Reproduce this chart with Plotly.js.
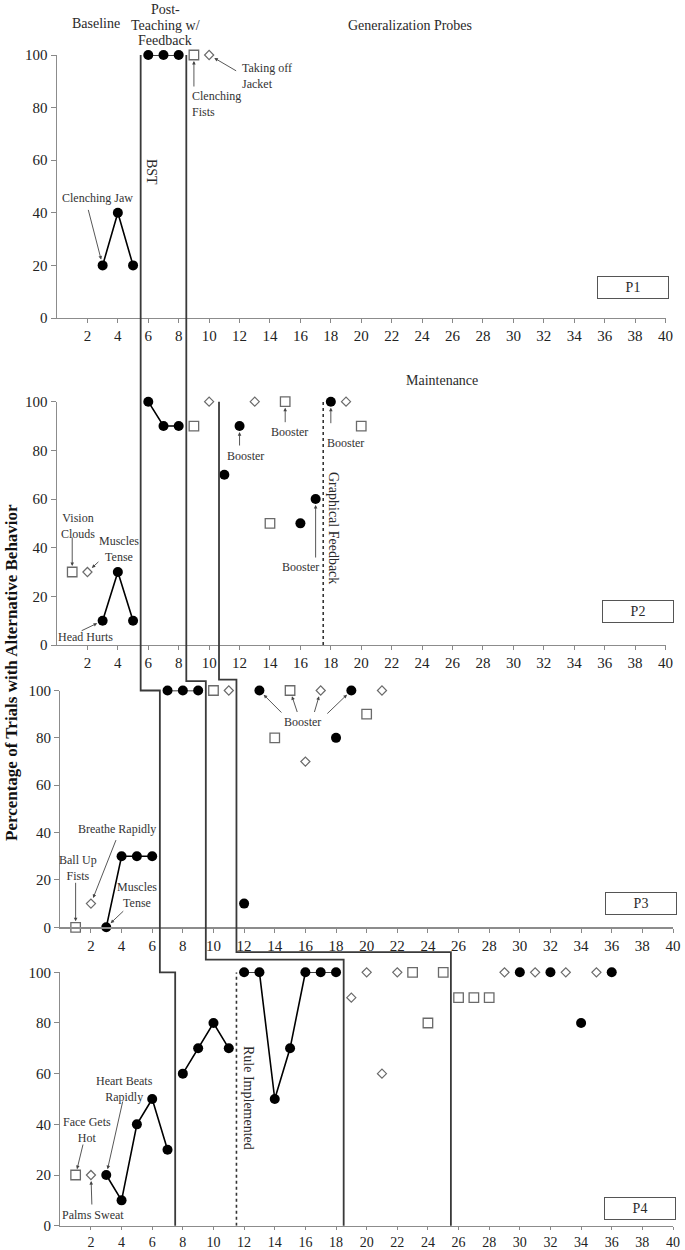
<!DOCTYPE html>
<html>
<head>
<meta charset="utf-8">
<script src="https://cdn.plot.ly/plotly-3.0.1.min.js"></script>
<style>html,body{margin:0;padding:0;background:#fff;}#chart{width:685px;height:1250px;}</style>
</head>
<body>
<div id="chart"></div>
<script>
// ---------------- DATA ----------------
// P1
const p1BaseX = [3, 4, 5], p1BaseY = [20, 40, 20];
const p1PostX = [6, 7, 8], p1PostY = [100, 100, 100];
const p1SqX = [9], p1SqY = [100];
const p1DiX = [10], p1DiY = [100];
// P2
const p2BaseX = [3, 4, 5], p2BaseY = [10, 30, 10];
const p2PostX = [6, 7, 8], p2PostY = [100, 90, 90];
const p2MaintX = [11, 12, 16, 17, 18], p2MaintY = [70, 90, 50, 60, 100];
const p2SqX = [1, 9, 14, 15, 20], p2SqY = [30, 90, 50, 100, 90];
const p2DiX = [2, 10, 13, 19], p2DiY = [30, 100, 100, 100];
// P3
const p3BaseX = [3, 4, 5, 6], p3BaseY = [0, 30, 30, 30];
const p3PostX = [7, 8, 9], p3PostY = [100, 100, 100];
const p3MaintX = [12, 13, 18, 19], p3MaintY = [10, 100, 80, 100];
const p3SqX = [1, 10, 14, 15, 20], p3SqY = [0, 100, 80, 100, 90];
const p3DiX = [2, 11, 16, 17, 21], p3DiY = [10, 100, 70, 100, 100];
// P4
const p4BaseX = [3, 4, 5, 6, 7], p4BaseY = [20, 10, 40, 50, 30];
const p4PostX = [8, 9, 10, 11], p4PostY = [60, 70, 80, 70];
const p4RuleX = [12, 13, 14, 15, 16, 17, 18], p4RuleY = [100, 100, 50, 70, 100, 100, 100];
const p4MaintX = [30, 32, 34, 36], p4MaintY = [100, 100, 80, 100];
const p4SqX = [1, 23, 24, 25, 26, 27, 28], p4SqY = [20, 100, 80, 100, 90, 90, 90];
const p4DiX = [2, 19, 20, 21, 22, 29, 31, 33, 35], p4DiY = [20, 90, 100, 60, 100, 100, 100, 100, 100];

// Phase change lines: x in each panel (P1/P2, P3, P4)
const phaseA = [5.5, 6.5, 7.5];
const phaseB = [8.5, 9.5, 18.5];
const phaseC = [10.65, 11.5, 25.5];
// step heights (in panel y units) where the staircase crosses into P3 / P4
const stepA = [100, 100];
const stepB = [104, 105];
const stepC = [104.6, 108];
const graphFeedbackX = 17.5; // P2 dotted line
const ruleX = 11.5;          // P4 dotted line

const xTicks = [2,4,6,8,10,12,14,16,18,20,22,24,26,28,30,32,34,36,38,40];
const yTicks = [0,20,40,60,80,100];

// ---------------- LAYOUT GEOMETRY (pixels) ----------------
const W = 685, H = 1250;
const panels = [
  {x0: 57,   x1: 665.5, yTop: 55,    yBot: 318},
  {x0: 57,   x1: 665.5, yTop: 401.7, yBot: 645},
  {x0: 60.3, x1: 673,   yTop: 690.5, yBot: 927.3},
  {x0: 60.3, x1: 673,   yTop: 972.3, yBot: 1225.7}
];
const px = v => v / W;
const py = v => 1 - v / H;
function xp(i, v) { const p = panels[i]; return px(p.x0 + v / 40 * (p.x1 - p.x0)); }
function yp(i, v) { const p = panels[i]; return py(p.yBot - v / 100 * (p.yBot - p.yTop)); }

const FONT = "Liberation Serif, Times New Roman, serif";
const axisIds = ['', '2', '3', '4'];

const traces = [];
function circles(i, x, y, connected) {
  traces.push({
    x: x, y: y, xaxis: 'x' + axisIds[i], yaxis: 'y' + axisIds[i],
    mode: connected ? 'lines+markers' : 'markers', type: 'scatter',
    line: {color: '#000', width: 1.6},
    marker: {symbol: 'circle', size: 10, color: '#000'},
    cliponaxis: false, hoverinfo: 'skip'
  });
}
function squares(i, x, y) {
  traces.push({
    x: x, y: y, xaxis: 'x' + axisIds[i], yaxis: 'y' + axisIds[i],
    mode: 'markers', type: 'scatter',
    marker: {symbol: 'square', size: 9.5, color: '#fff', line: {color: '#6a6a6a', width: 1.3}},
    cliponaxis: false, hoverinfo: 'skip'
  });
}
function diamonds(i, x, y) {
  traces.push({
    x: x, y: y, xaxis: 'x' + axisIds[i], yaxis: 'y' + axisIds[i],
    mode: 'markers', type: 'scatter',
    marker: {symbol: 'diamond', size: 7, color: '#fff', line: {color: '#6a6a6a', width: 1.2}},
    cliponaxis: false, hoverinfo: 'skip'
  });
}
circles(0, p1BaseX, p1BaseY, true); circles(0, p1PostX, p1PostY, true);
squares(0, p1SqX, p1SqY); diamonds(0, p1DiX, p1DiY);
circles(1, p2BaseX, p2BaseY, true); circles(1, p2PostX, p2PostY, true); circles(1, p2MaintX, p2MaintY, false);
squares(1, p2SqX, p2SqY); diamonds(1, p2DiX, p2DiY);
circles(2, p3BaseX, p3BaseY, true); circles(2, p3PostX, p3PostY, true); circles(2, p3MaintX, p3MaintY, false);
squares(2, p3SqX, p3SqY); diamonds(2, p3DiX, p3DiY);
circles(3, p4BaseX, p4BaseY, true); circles(3, p4PostX, p4PostY, true); circles(3, p4RuleX, p4RuleY, true);
circles(3, p4MaintX, p4MaintY, false);
squares(3, p4SqX, p4SqY); diamonds(3, p4DiX, p4DiY);

const layout = {
  width: W, height: H,
  margin: {l: 0, r: 0, t: 0, b: 0},
  paper_bgcolor: '#fff', plot_bgcolor: 'rgba(0,0,0,0)',
  showlegend: false,
  font: {family: FONT, color: '#222'},
  shapes: [], annotations: []
};
panels.forEach((p, i) => {
  const id = axisIds[i];
  const last = i === 3;
  layout['xaxis' + id] = {
    domain: [px(p.x0), px(p.x1)], anchor: 'y' + id, range: [0, 40],
    tickvals: xTicks, ticktext: xTicks.map(String), ticks: 'outside', ticklen: last ? 3 : 4,
    tickcolor: '#888', tickwidth: 1, showline: true, linecolor: '#8c8c8c', linewidth: 1.4,
    showgrid: false, zeroline: false, fixedrange: true,
    tickfont: {family: FONT, size: last ? 14 : 15, color: '#222'}
  };
  layout['yaxis' + id] = {
    domain: [py(p.yBot), py(p.yTop)], anchor: 'x' + id, range: [0, 100],
    tickvals: yTicks, ticks: 'outside', ticklen: 5,
    tickcolor: '#888', tickwidth: 1, showline: true, linecolor: '#8c8c8c', linewidth: 1.4,
    showgrid: false, zeroline: false, fixedrange: true,
    tickfont: {family: FONT, size: 15, color: '#222'}
  };
});

// staircase phase lines
const lineStyle = {color: '#3a3a3a', width: 1.8};
function stair(ph, st, topPanel) {
  const path = 'M' + xp(1, ph[0]) + ',' + yp(topPanel, 100) +
    ' L' + xp(1, ph[0]) + ',' + yp(2, st[0]) +
    ' L' + xp(2, ph[1]) + ',' + yp(2, st[0]) +
    ' L' + xp(2, ph[1]) + ',' + yp(3, st[1]) +
    ' L' + xp(3, ph[2]) + ',' + yp(3, st[1]) +
    ' L' + xp(3, ph[2]) + ',' + yp(3, 0);
  layout.shapes.push({type: 'path', xref: 'paper', yref: 'paper', path: path, line: lineStyle});
}
stair(phaseA, stepA, 0);
stair(phaseB, stepB, 0);
stair(phaseC, stepC, 1);
layout.shapes.push({type: 'line', xref: 'x2', yref: 'y2', x0: graphFeedbackX, x1: graphFeedbackX, y0: 0, y1: 100,
  line: {color: '#333', width: 1.6, dash: 'dot'}});
layout.shapes.push({type: 'line', xref: 'x4', yref: 'y4', x0: ruleX, x1: ruleX, y0: 0, y1: 100,
  line: {color: '#333', width: 1.6, dash: 'dot'}});

// text labels (pixel positions)
function txt(t, x, y, size, opts) {
  layout.annotations.push(Object.assign({
    text: t, xref: 'paper', yref: 'paper', x: px(x), y: py(y),
    xanchor: 'center', yanchor: 'middle', showarrow: false,
    font: {family: FONT, size: size, color: '#2a2a2a'}
  }, opts || {}));
}
const small = {family: FONT, size: 12, color: '#333'};
txt('Baseline', 96, 24, 14);
txt('Post-', 165, 9.5, 14);
txt('Teaching w/', 165, 25, 14);
txt('Feedback', 165, 40.5, 14);
txt('Generalization Probes', 410, 25, 14);
txt('BST', 151, 172, 14, {textangle: 90});
txt('Clenching Jaw', 97, 198, 12, {font: small});
txt('Clenching<br>Fists', 190, 104, 12, {xanchor: 'left', align: 'left', font: small});
txt('Taking off<br>Jacket', 240, 76, 12, {xanchor: 'left', align: 'left', font: small});

txt('Maintenance', 442, 380, 14);
txt('Vision<br>Clouds', 78, 526, 12, {font: small});
txt('Muscles<br>Tense', 119, 549, 12, {font: small});
txt('Head Hurts', 85, 637, 12, {font: small});
txt('Booster', 245, 456, 12, {font: small});
txt('Booster', 289, 432, 12, {font: small});
txt('Booster', 300, 567, 12, {font: small});
txt('Booster', 345, 443, 12, {font: small});
txt('Graphical Feedback', 334, 528, 14, {textangle: 90});

txt('Breathe Rapidly', 117, 829, 12, {font: small});
txt('Ball Up<br>Fists', 78, 868, 12, {font: small});
txt('Muscles<br>Tense', 137, 895, 12, {font: small});
txt('Booster', 302, 722, 12, {font: small});

txt('Heart Beats<br>Rapidly', 124, 1089, 12, {font: small});
txt('Face Gets<br>Hot', 87, 1130, 12, {font: small});
txt('Palms Sweat', 93, 1215, 12, {font: small});
txt('Rule Implemented', 249, 1098, 14, {textangle: 90});

txt('<b>Percentage of Trials with Alternative Behavior</b>', 11, 673, 17, {textangle: -90, font: {family: FONT, size: 17, color: '#111'}});

// participant boxes
const boxes = [['P1', 633, 288], ['P2', 638, 611], ['P3', 641, 903], ['P4', 640, 1208.5]];
boxes.forEach(b => txt(b[0], b[1], b[2], 14, {bordercolor: '#555', borderwidth: 1, width: 68, height: 19, borderpad: 1, bgcolor: '#fff'}));

// arrows: [panel, headX, headY, tail dx px, tail dy px]
const arrows = [
  [0, p1BaseX[0], p1BaseY[0], -15, -58],
  [0, p1SqX[0], p1SqY[0], 0, 34],
  [0, p1DiX[0], p1DiY[0], 29, 17],
  [1, p2SqX[0], p2SqY[0], 0, -37],
  [1, p2DiX[0], p2DiY[0], 13, -12],
  [1, p2BaseX[0], p2BaseY[0], -23, 11],
  [1, p2MaintX[1], p2MaintY[1], 0, 22],
  [1, p2SqX[3], p2SqY[3], 0, 23],
  [1, p2MaintX[3], p2MaintY[3], 0, 61],
  [1, p2MaintX[4], p2MaintY[4], 0, 24],
  [2, p3SqX[0], p3SqY[0], 0, -47],
  [2, p3DiX[0], p3DiY[0], 26, -66],
  [2, p3BaseX[0], p3BaseY[0], 19, -18],
  [2, p3MaintX[1], p3MaintY[1], 24, 24],
  [2, p3SqX[3], p3SqY[3], 8, 24],
  [2, p3DiX[3], p3DiY[3], -7, 24],
  [2, p3MaintX[3], p3MaintY[3], -26, 25],
  [3, p4SqX[0], p4SqY[0], 8, -33],
  [3, p4DiX[0], p4DiY[0], 1, 32],
  [3, p4BaseX[0], p4BaseY[0], 17, -76]
];
arrows.forEach(a => {
  layout.annotations.push({
    xref: 'x' + axisIds[a[0]], yref: 'y' + axisIds[a[0]], x: a[1], y: a[2],
    ax: a[3], ay: a[4], text: ' ', showarrow: true, arrowhead: 2, arrowsize: 0.8,
    arrowwidth: 0.9, arrowcolor: '#444', standoff: 6, font: {size: 2}
  });
});

Plotly.newPlot('chart', traces, layout, {staticPlot: true, displayModeBar: false});
</script>
</body>
</html>
